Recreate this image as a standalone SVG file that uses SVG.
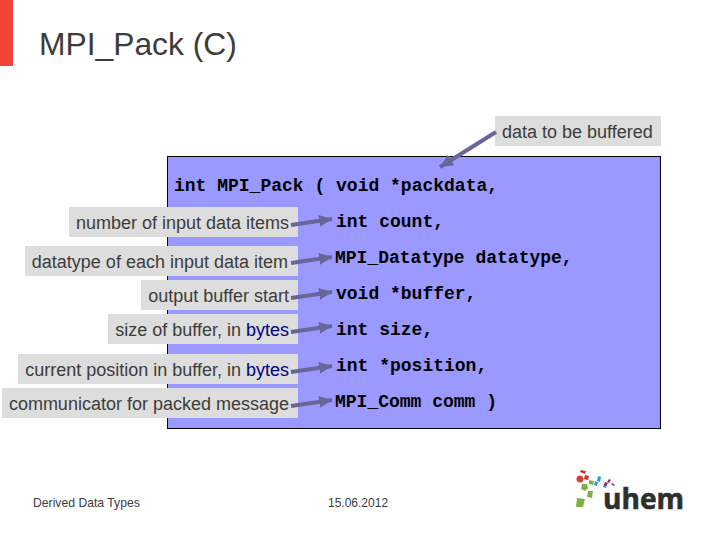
<svg xmlns="http://www.w3.org/2000/svg" width="720" height="540" viewBox="0 0 720 540">
<style>
.s{font-family:"Liberation Sans",Arial,sans-serif;fill:#3c3c3c}
.l{font-size:18px;text-anchor:end}
.c{font-family:"Liberation Mono","Courier New",monospace;font-size:18px;font-weight:bold;fill:#000}
.b{fill:#000080}
.box{fill:#ddd}
.a{stroke:#666699;stroke-width:4;fill:none;marker-end:url(#ah)}
</style>
<defs><marker id="ah" markerUnits="userSpaceOnUse" markerWidth="16" markerHeight="14" refX="13" refY="6" orient="auto"><path d="M0 0L13 6L0 12z" fill="#666699"/></marker></defs>
<rect width="720" height="540" fill="#fff"/>
<rect x="0" y="0" width="13" height="66" fill="#f04438"/>
<text class="s" x="39" y="55" font-size="31.800">MPI_Pack (C)</text>
<g id="code">
<rect x="167.500" y="156.500" width="493" height="272" fill="#9999ff" stroke="#000" stroke-width="1"/>
<text class="c" x="174" y="190.500">int MPI_Pack ( void *packdata,</text>
<text class="c" x="336" y="226.500">int count,</text>
<text class="c" x="335" y="262.500">MPI_Datatype datatype,</text>
<text class="c" x="336" y="298.500">void *buffer,</text>
<text class="c" x="336" y="334.500">int size,</text>
<text class="c" x="336" y="370.500">int *position,</text>
<text class="c" x="335" y="406.500">MPI_Comm comm )</text>
</g>
<g id="n-data"><rect class="box" x="495" y="116" width="166" height="30"/><text class="s" x="502" y="138" font-size="18">data to be buffered</text></g>
<g id="n-count"><rect class="box" x="69" y="207" width="229" height="30"/><text class="s l" x="289" y="229">number of input data items</text></g>
<g id="n-datatype"><rect class="box" x="25" y="246" width="273" height="30"/><text class="s l" x="288" y="268">datatype of each input data item</text></g>
<g id="n-buffer"><rect class="box" x="141" y="280" width="157" height="30"/><text class="s l" x="289" y="302">output buffer start</text></g>
<g id="n-size"><rect class="box" x="108" y="314" width="190" height="30"/><text class="s l" x="289" y="336">size of buffer, in <tspan class="b">bytes</tspan></text></g>
<g id="n-position"><rect class="box" x="18" y="354" width="280" height="30"/><text class="s l" x="289" y="376">current position in buffer, in <tspan class="b">bytes</tspan></text></g>
<g id="n-comm"><rect class="box" x="2" y="388" width="296" height="30"/><text class="s l" x="289" y="410">communicator for packed message</text></g>
<g id="connectors">
<line class="a" x1="496" y1="132" x2="440" y2="167"/>
<line class="a" x1="291" y1="225" x2="332" y2="219"/>
<line class="a" x1="291" y1="263" x2="332" y2="257"/>
<line class="a" x1="291" y1="298" x2="332" y2="292"/>
<line class="a" x1="291" y1="332" x2="332" y2="326"/>
<line class="a" x1="291" y1="372" x2="332" y2="366"/>
<line class="a" x1="291" y1="406" x2="332" y2="400"/>
</g>
<text class="s" x="33" y="507" font-size="12.200">Derived Data Types</text>
<text class="s" x="328" y="507" font-size="12">15.06.2012</text>
<g id="logo">
<path d="M581 470l5 1-1 3-5-2z" fill="#c0392b"/><path d="M585 475l4 1-1 4-4-1z" fill="#c0392b"/>
<circle cx="580" cy="479" r="3.500" fill="#d9402f"/>
<path d="M582 484l5 0 1 4-3 3-4-2z" fill="#7cb342"/><path d="M589 480l5 1-1 4-4-1z" fill="#7cb342"/>
<path d="M588 491l5 0-1 7-5-1z" fill="#7cb342"/><path d="M577 498l8 1-2 8-7 0z" fill="#7cb342"/>
<path d="M595 481l3 1-1 4-3-1z" fill="#2a9fd6"/><path d="M598 476l3 1-1 5-3-1z" fill="#2a9fd6"/><path d="M604 484l3 1-1 3-3-1z" fill="#2a9fd6"/>
<path d="M605 482l3 1-2 3-2-1zM609 479l2 1-2 3-2-1zM612 483l3 2-1 1-3-2z" fill="#8e2a6b"/>
<text x="603" y="509" font-family="'Open Sans','Liberation Sans',sans-serif" font-weight="bold" font-size="28" fill="#2e2e2e" stroke="#2e2e2e" stroke-width=".6" textLength="81" lengthAdjust="spacingAndGlyphs">uhem</text>
</g>
</svg>
